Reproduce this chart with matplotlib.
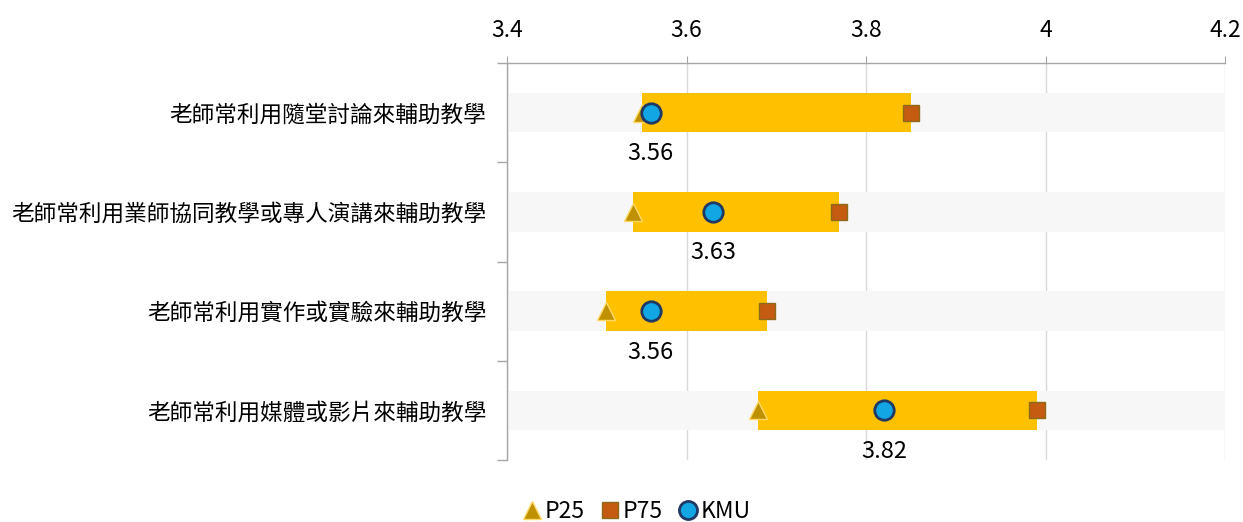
import matplotlib
matplotlib.use("Agg")
import matplotlib.pyplot as plt
from matplotlib.lines import Line2D

plt.rcParams['font.family'] = ['Noto Sans CJK TC', 'DejaVu Sans']

categories = ["老師常利用隨堂討論來輔助教學",
              "老師常利用業師協同教學或專人演講來輔助教學",
              "老師常利用實作或實驗來輔助教學",
              "老師常利用媒體或影片來輔助教學"]
p25 = [3.55, 3.54, 3.51, 3.68]
p75 = [3.85, 3.77, 3.69, 3.99]
kmu = [3.56, 3.63, 3.56, 3.82]
x_ticks = [3.4, 3.6, 3.8, 4.0, 4.2]
x_ticklabels = ["3.4", "3.6", "3.8", "4", "4.2"]

fig = plt.figure(figsize=(12.43, 5.22), dpi=100)
ax = fig.add_axes([507/1243, 1-460/522, (1225-507)/1243, (460-63)/522])

xmin, xmax = x_ticks[0], x_ticks[-1]
ypos = list(range(len(categories)))
h = 0.4

ax.barh(ypos, [xmax - xmin]*len(ypos), left=xmin, height=h, color='#F7F7F7', zorder=1)
ax.barh(ypos, [b - a for a, b in zip(p25, p75)], left=p25, height=h, color='#FFC000', zorder=2)

ax.plot(p25, ypos, linestyle='none', marker='^', markersize=13, markerfacecolor='#BF9000',
        markeredgecolor='#FFD966', markeredgewidth=1, zorder=3)
ax.plot(p75, ypos, linestyle='none', marker='s', markersize=11.5, markerfacecolor='#C55A11',
        markeredgecolor='#8C6A1A', markeredgewidth=1, zorder=3)
ax.plot(kmu, ypos, linestyle='none', marker='o', markersize=14, markerfacecolor='#12A6E4',
        markeredgecolor='#1F3864', markeredgewidth=2, zorder=4)

for x, y in zip(kmu, ypos):
    ax.annotate(f"{x:.2f}", (x, y), xytext=(0, -29.5), textcoords='offset points',
                ha='center', va='center', fontsize=17, color='#000000', zorder=5)

ax.set_xlim(xmin, xmax)
ax.set_ylim(len(categories) - 0.5, -0.5)
ax.set_xticks(x_ticks)
ax.set_xticklabels(x_ticklabels)
ax.xaxis.tick_top()
ax.tick_params(axis='x', which='major', direction='out', length=5, color='#A6A6A6',
               labelsize=16.5, pad=10, labelcolor='#000000')
ax.grid(axis='x', color='#D9D9D9', linewidth=1, zorder=0)
ax.set_axisbelow(True)

ax.set_yticks(ypos)
ax.set_yticklabels(categories)
ax.tick_params(axis='y', which='major', length=0, labelsize=16.3, pad=15)
ax.set_yticks([y - 0.5 for y in ypos] + [ypos[-1] + 0.5], minor=True)
ax.tick_params(axis='y', which='minor', direction='out', length=7, color='#A6A6A6', width=1)

for s in ['right', 'bottom']:
    ax.spines[s].set_visible(False)
for s in ['left', 'top']:
    ax.spines[s].set_color('#A6A6A6')
    ax.spines[s].set_linewidth(1)

handles = [
    Line2D([], [], linestyle='none', marker='^', markersize=13, markerfacecolor='#BF9000',
           markeredgecolor='#FFD966'),
    Line2D([], [], linestyle='none', marker='s', markersize=11.5, markerfacecolor='#C55A11',
           markeredgecolor='#8C6A1A'),
    Line2D([], [], linestyle='none', marker='o', markersize=13, markerfacecolor='#12A6E4',
           markeredgecolor='#1F3864', markeredgewidth=2),
]
fig.legend(handles, ["P25", "P75", "KMU"], loc='center', bbox_to_anchor=(635/1243, 1-512/522),
           ncol=3, frameon=False, fontsize=16.5, handletextpad=0.0, columnspacing=0.55,
           handlelength=1.1)

fig.savefig("out.png", dpi=100)
